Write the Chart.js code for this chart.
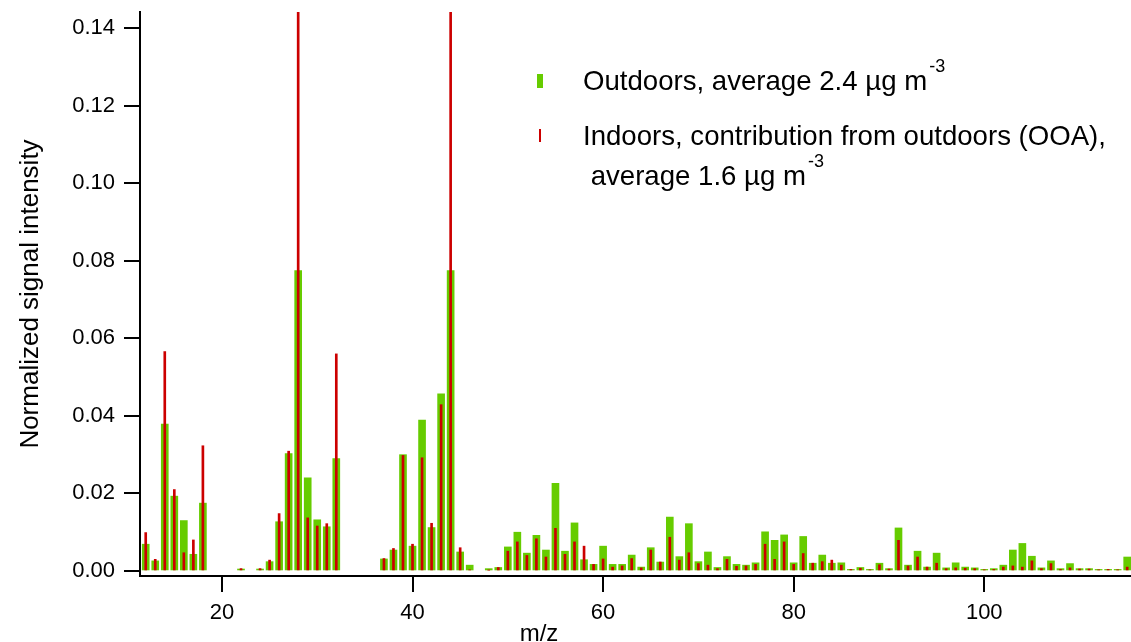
<!DOCTYPE html>
<html><head><meta charset="utf-8">
<script src="https://cdn.jsdelivr.net/npm/chart.js@4.4.1/dist/chart.umd.min.js"></script>
<style>html,body{margin:0;padding:0;background:#fff}#wrap{width:1131px;height:642px;position:relative}</style>
</head><body><div id="wrap"><canvas id="c" width="1131" height="642"></canvas></div>
<script>
// m/z values (integer masses)
const mz = [12,13,14,15,16,17,18,19,20,21,22,23,24,25,26,27,28,29,30,31,32,33,34,35,36,37,38,39,40,41,42,43,44,45,46,47,48,49,50,51,52,53,54,55,56,57,58,59,60,61,62,63,64,65,66,67,68,69,70,71,72,73,74,75,76,77,78,79,80,81,82,83,84,85,86,87,88,89,90,91,92,93,94,95,96,97,98,99,100,101,102,103,104,105,106,107,108,109,110,111,112,113,114,115];
// Outdoors, average 2.4 ug m-3
const outdoors = [0.0069,0.0026,0.0379,0.0193,0.0130,0.0043,0.0175,0,0,0,0.0005,0,0.0005,0.0024,0.0127,0.0303,0.0775,0.0240,0.0132,0.0114,0.0290,0,0,0,0,0.0031,0.0054,0.0300,0.0064,0.0389,0.0112,0.0457,0.0775,0.0049,0.0015,0,0.0006,0.0009,0.0062,0.0100,0.0046,0.0092,0.0054,0.0226,0.0051,0.0124,0.0029,0.0017,0.0064,0.0017,0.0017,0.0041,0.0010,0.0060,0.0023,0.0139,0.0037,0.0122,0.0024,0.0049,0.0009,0.0037,0.0017,0.0015,0.0021,0.0101,0.0079,0.0093,0.0021,0.0089,0.0020,0.0041,0.0020,0.0021,0.0004,0.0009,0.0004,0.0020,0.0006,0.0111,0.0015,0.0051,0.0010,0.0046,0.0008,0.0021,0.0010,0.0008,0.0004,0.0006,0.0015,0.0054,0.0071,0.0038,0.0008,0.0026,0.0006,0.0019,0.0006,0.0006,0.0004,0.0004,0.0004,0.0036];
// Indoors, contribution from outdoors (OOA), average 1.6 ug m-3
const indoors = [0.0099,0.0030,0.0566,0.0210,0.0047,0.0080,0.0323,0,0,0,0.0006,0,0.0006,0.0028,0.0148,0.0309,0.1600,0.0137,0.0116,0.0122,0.0560,0,0,0,0,0.0032,0.0058,0.0298,0.0069,0.0292,0.0123,0.0429,0.1600,0.0060,0.0003,0,0.0002,0.0009,0.0051,0.0075,0.0040,0.0083,0.0036,0.0110,0.0043,0.0075,0.0064,0.0017,0.0031,0.0010,0.0013,0.0032,0.0008,0.0054,0.0023,0.0087,0.0028,0.0047,0.0019,0.0015,0.0006,0.0030,0.0012,0.0013,0.0017,0.0069,0.0030,0.0075,0.0017,0.0045,0.0020,0.0024,0.0028,0.0015,0.0004,0.0007,0.0003,0.0016,0.0005,0.0079,0.0013,0.0036,0.0010,0.0020,0.0006,0.0008,0.0007,0.0006,0.0003,0.0004,0.0010,0.0013,0.0010,0.0026,0.0006,0.0019,0.0004,0.0008,0.0005,0.0005,0.0003,0.0004,0.0003,0.0010];
const xTicks = [20,40,60,80,100];
const yTicks = [0,0.02,0.04,0.06,0.08,0.10,0.12,0.14];
const seriesNames = ["Outdoors, average 2.4 \u00b5g m", "Indoors, contribution from outdoors (OOA),", " average 1.6 \u00b5g m"];
const xTitle = "m/z";
const yTitle = "Normalized signal intensity";

const FONT = "'Liberation Sans', Arial, sans-serif";
const GREEN = '#66CC00', RED = '#CC0000';
Chart.defaults.font.family = FONT;
Chart.defaults.color = '#000';

const legendPlugin = {
  id: 'customLegend',
  afterDraw(chart) {
    const ctx = chart.ctx;
    ctx.save();
    ctx.fillStyle = GREEN;
    ctx.fillRect(537, 74, 6, 14);
    ctx.fillStyle = RED;
    ctx.fillRect(539, 129, 2, 13);
    ctx.fillStyle = '#000';
    ctx.textBaseline = 'alphabetic';
    ctx.textAlign = 'left';
    ctx.font = "27.6px " + FONT;
    ctx.fillText(seriesNames[0], 583, 90);
    let w0 = ctx.measureText(seriesNames[0]).width;
    ctx.fillText(seriesNames[1], 583, 145);
    ctx.fillText(seriesNames[2], 583, 185);
    let w2 = ctx.measureText(seriesNames[2]).width;
    ctx.font = "18px " + FONT;
    ctx.fillText("-3", 583 + w0 + 2, 72);
    ctx.fillText("-3", 583 + w2 + 2, 167);
    ctx.font = "24px " + FONT;
    ctx.textAlign = 'center';
    ctx.fillText(xTitle, 539, 641);
    ctx.restore();
  }
};

const toPoints = vals => mz.map((m, i) => ({x: m, y: vals[i] > 0 ? vals[i] : null}));

new Chart(document.getElementById('c'), {
  type: 'bar',
  data: {
    datasets: [
      { label: 'Indoors', data: toPoints(indoors), backgroundColor: RED, barThickness: 2, order: 0 },
      { label: 'Outdoors', data: toPoints(outdoors), backgroundColor: GREEN, barThickness: 7, order: 1 }
    ]
  },
  options: {
    responsive: false,
    devicePixelRatio: 1,
    animation: false,
    layout: { padding: { top: 12, right: 0, bottom: 0, left: 0 } },
    plugins: { legend: { display: false }, tooltip: { enabled: false } },
    datasets: { bar: { grouped: false } },
    scales: {
      x: {
        type: 'linear', min: 11.4, max: 115.4, offset: false,
        afterBuildTicks: s => { s.ticks = xTicks.map(v => ({value: v})); },
        afterFit: s => { s.height = 66; s.paddingLeft = 0; s.paddingRight = 0; },
        grid: { display: true, offset: false, drawOnChartArea: false, drawTicks: true, tickLength: 16, color: '#000', lineWidth: 2 },
        border: { display: true, color: '#000', width: 2 },
        ticks: { font: { size: 22 }, color: '#000', padding: 8, maxRotation: 0, callback: v => String(v) }
      },
      y: {
        type: 'linear', min: -0.0013, max: 0.1442,
        afterBuildTicks: s => { s.ticks = yTicks.map(v => ({value: v})); },
        afterFit: s => { s.width = 140; s.paddingTop = 0; s.paddingBottom = 0; },
        grid: { display: true, drawOnChartArea: false, drawTicks: true, tickLength: 16, color: '#000', lineWidth: 2 },
        border: { display: true, color: '#000', width: 2 },
        ticks: { font: { size: 22 }, color: '#000', padding: 9, callback: v => Number(v).toFixed(2) },
        title: { display: true, text: yTitle, font: { size: 26 }, color: '#000', padding: { top: 15, bottom: 0 } }
      }
    }
  },
  plugins: [legendPlugin]
});
</script>
</body></html>
